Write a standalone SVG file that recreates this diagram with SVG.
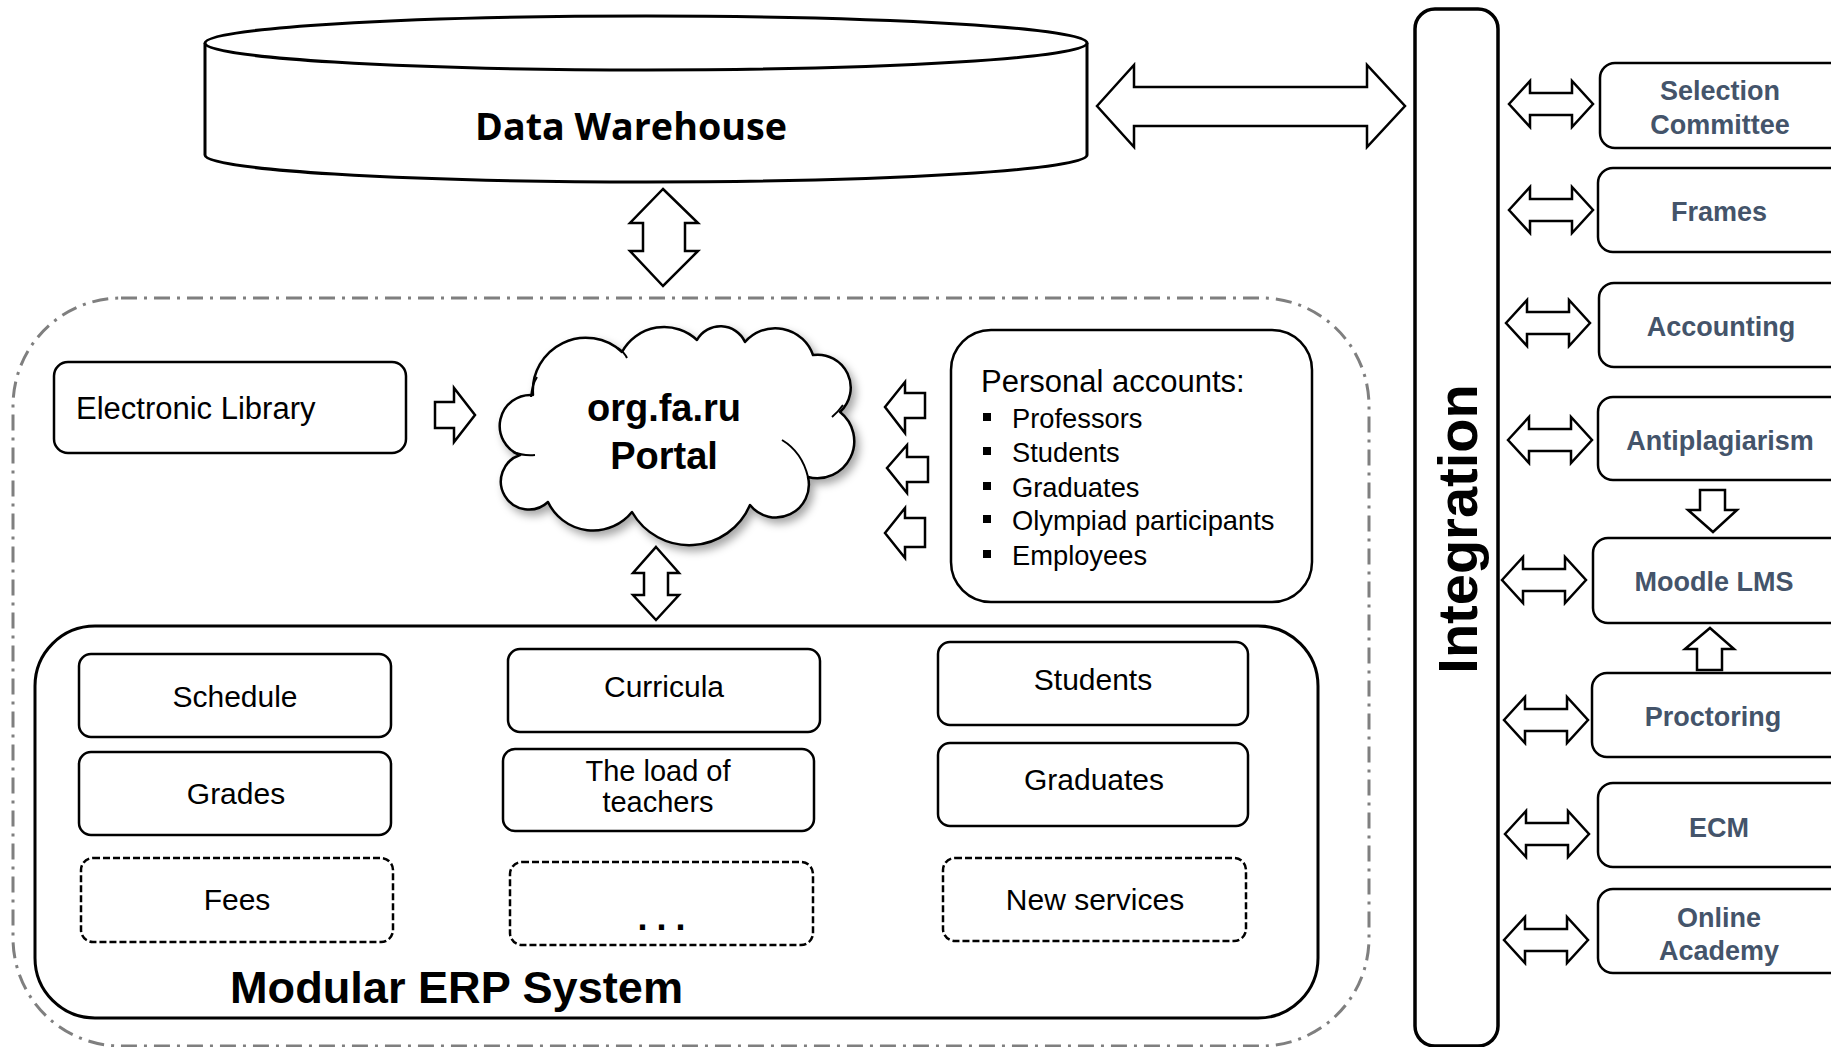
<svg xmlns="http://www.w3.org/2000/svg" xmlns:xlink="http://www.w3.org/1999/xlink" width="1831" height="1047" viewBox="0 0 1831 1047">
<style>
  .ln{fill:#fff;stroke:#000;stroke-width:2.5;stroke-linejoin:round}
  .thick{fill:#fff;stroke:#000;stroke-width:3;stroke-linejoin:round}
  .dash{fill:#fff;stroke:#000;stroke-width:2.5;stroke-dasharray:7 3}
  .arr{fill:#fff;stroke:#000;stroke-width:2.5;stroke-linejoin:miter}
  .t{font-family:"Liberation Sans",Arial,sans-serif;fill:#000}
  .c{text-anchor:middle}
  .b{font-weight:bold}
  .rt{font-family:"Liberation Sans",Arial,sans-serif;font-weight:bold;font-size:27px;fill:#44546A;text-anchor:middle}
  .m{font-size:30px}
</style>
<defs>
  <polygon id="dbl" points="0,0 21,-23 21,-11 63,-11 63,-23 84,0 63,23 63,11 21,11 21,23" class="arr"/>
  <filter id="sh" x="-10%" y="-10%" width="130%" height="130%">
    <feDropShadow dx="4" dy="5" stdDeviation="4" flood-color="#000" flood-opacity="0.35"/>
  </filter>
</defs>

<g id="outer-container">
  <rect x="13" y="298" width="1356" height="748" rx="108" ry="108" fill="none" stroke="#7f7f7f" stroke-width="3" stroke-dasharray="16 7 3 7"/>
</g>

<g id="data-warehouse">
  <path d="M205,43 L205,155 A441,27 0 0 0 1087,155 L1087,43" class="thick"/>
  <ellipse cx="646" cy="43" rx="441" ry="27" class="thick"/>
  <text x="631" y="140" font-family="'Open Sans','Noto Sans',sans-serif" font-weight="bold" font-size="38" text-anchor="middle" textLength="312" lengthAdjust="spacingAndGlyphs">Data Warehouse</text>
</g>

<g id="integration">
  <rect x="1415" y="9" width="83" height="1037" rx="20" ry="20" fill="#fff" stroke="#000" stroke-width="3.5"/>
  <text class="t b c" font-size="56" transform="translate(1477,529) rotate(-90)">Integration</text>
</g>

<g id="selection-committee">
  <rect x="1600" y="63" width="300" height="85" rx="15" class="ln"/>
  <text class="rt" x="1720" y="100">Selection</text>
  <text class="rt" x="1720" y="134">Committee</text>
</g>
<g id="frames">
  <rect x="1598" y="168" width="300" height="84" rx="15" class="ln"/>
  <text class="rt" x="1719" y="221">Frames</text>
</g>
<g id="accounting">
  <rect x="1599" y="283" width="300" height="84" rx="15" class="ln"/>
  <text class="rt" x="1721" y="336">Accounting</text>
</g>
<g id="antiplagiarism">
  <rect x="1598" y="397" width="300" height="83" rx="15" class="ln"/>
  <text class="rt" x="1720" y="450">Antiplagiarism</text>
</g>
<g id="moodle-lms">
  <rect x="1593" y="538" width="300" height="85" rx="15" class="ln"/>
  <text class="rt" x="1714" y="591">Moodle LMS</text>
</g>
<g id="proctoring">
  <rect x="1592" y="673" width="300" height="84" rx="15" class="ln"/>
  <text class="rt" x="1713" y="726">Proctoring</text>
</g>
<g id="ecm">
  <rect x="1598" y="783" width="300" height="84" rx="15" class="ln"/>
  <text class="rt" x="1719" y="837">ECM</text>
</g>
<g id="online-academy">
  <rect x="1598" y="889" width="300" height="84" rx="15" class="ln"/>
  <text class="rt" x="1719" y="927">Online</text>
  <text class="rt" x="1719" y="960">Academy</text>
</g>

<g id="electronic-library">
  <rect x="54" y="362" width="352" height="91" rx="14" class="ln"/>
  <text class="t" x="76" y="419" font-size="31">Electronic Library</text>
</g>

<g id="portal">
  <path filter="url(#sh)" class="ln" stroke-width="2" d="M533,395 A53,53 0 0 1 622,352 A48,48 0 0 1 697,340 A27,27 0 0 1 745,342 A40,40 0 0 1 813,355 A33,33 0 0 1 840,412 A37,37 0 0 1 808,477 A33,33 0 0 1 750,505 A66,66 0 0 1 632,512 A50,50 0 0 1 548,502 A28,28 0 1 1 520,455 A31,31 0 0 1 533,395 Z"/>
  <g fill="none" stroke="#000" stroke-width="2">
    <path d="M531,397 Q532,385 537,377"/>
    <path d="M618,348 Q624,352 627,358"/>
    <path d="M843,405 Q838,412 832,417"/>
    <path d="M782,440 Q802,452 808,477"/>
    <path d="M513,452 Q523,456 535,455"/>
  </g>
  <text class="t b c" x="664" y="421" font-size="38">org.fa.ru</text>
  <text class="t b c" x="664" y="469" font-size="38">Portal</text>
</g>

<g id="personal-accounts">
  <rect x="951" y="330" width="361" height="272" rx="40" class="ln"/>
  <text class="t" x="981" y="392" font-size="31">Personal accounts:</text>
  <g fill="#000">
    <rect x="983" y="413" width="8" height="8"/>
    <rect x="983" y="447" width="8" height="8"/>
    <rect x="983" y="482" width="8" height="8"/>
    <rect x="983" y="515" width="8" height="8"/>
    <rect x="983" y="550" width="8" height="8"/>
  </g>
  <text class="t" x="1012" y="428" font-size="27.3">Professors</text>
  <text class="t" x="1012" y="462" font-size="27.3">Students</text>
  <text class="t" x="1012" y="497" font-size="27.3">Graduates</text>
  <text class="t" x="1012" y="530" font-size="27.3">Olympiad participants</text>
  <text class="t" x="1012" y="565" font-size="27.3">Employees</text>
</g>

<g id="erp-system">
  <rect x="35" y="626" width="1283" height="392" rx="60" ry="60" class="thick"/>
  <text class="t b" x="230" y="1003" font-size="44" textLength="453" lengthAdjust="spacingAndGlyphs">Modular ERP System</text>
</g>
<g id="schedule">
  <rect x="79" y="654" width="312" height="83" rx="12" class="ln"/>
  <text class="t c m" x="235" y="707">Schedule</text>
</g>
<g id="grades">
  <rect x="79" y="752" width="312" height="83" rx="12" class="ln"/>
  <text class="t c m" x="236" y="804">Grades</text>
</g>
<g id="fees">
  <rect x="81" y="858" width="312" height="84" rx="12" class="dash"/>
  <text class="t c m" x="237" y="910">Fees</text>
</g>
<g id="curricula">
  <rect x="508" y="649" width="312" height="83" rx="12" class="ln"/>
  <text class="t c m" x="664" y="697">Curricula</text>
</g>
<g id="teacher-load">
  <rect x="503" y="749" width="311" height="82" rx="12" class="ln"/>
  <text class="t c" x="658" y="781" font-size="29">The load of</text>
  <text class="t c" x="658" y="812" font-size="29">teachers</text>
</g>
<g id="more">
  <rect x="510" y="862" width="303" height="83" rx="12" class="dash"/>
  <text class="t c b" x="666" y="930" font-size="36" letter-spacing="9">...</text>
</g>
<g id="students">
  <rect x="938" y="642" width="310" height="83" rx="12" class="ln"/>
  <text class="t c m" x="1093" y="690">Students</text>
</g>
<g id="graduates">
  <rect x="938" y="743" width="310" height="83" rx="12" class="ln"/>
  <text class="t c m" x="1094" y="790">Graduates</text>
</g>
<g id="new-services">
  <rect x="943" y="858" width="303" height="83" rx="12" class="dash"/>
  <text class="t c m" x="1095" y="910">New services</text>
</g>

<g id="connectors">
  <polygon class="arr" stroke-width="3" points="1097,106 1134,65 1134,87 1367,87 1367,65 1405,106 1367,147 1367,126 1134,126 1134,147"/>
  <polygon class="arr" points="663,189 698,223 685,223 685,251 698,251 663,286 630,251 643,251 643,223 630,223"/>
  <polygon class="arr" points="656,547 679,573 668,573 668,595 679,595 656,620 633,595 644,595 644,573 633,573"/>
  <polygon class="arr" points="435,402 454,402 454,388 475,415 454,442 454,428 435,428"/>
  <polygon class="arr" points="885,407 905,382 905,393 925,393 925,418 905,418 905,433"/>
  <polygon class="arr" points="887,468 907,445 907,457 928,457 928,482 907,482 907,493"/>
  <polygon class="arr" points="885,533 905,508 905,518 925,518 925,547 905,547 905,558"/>
  <use xlink:href="#dbl" x="1509" y="104"/>
  <use xlink:href="#dbl" x="1509" y="210"/>
  <use xlink:href="#dbl" x="1506" y="323"/>
  <use xlink:href="#dbl" x="1508" y="440"/>
  <use xlink:href="#dbl" x="1502" y="580"/>
  <use xlink:href="#dbl" x="1504" y="720"/>
  <use xlink:href="#dbl" x="1505" y="834"/>
  <use xlink:href="#dbl" x="1504" y="940"/>
  <polygon class="arr" points="1700,490 1725,490 1725,510 1737,510 1713,532 1688,510 1700,510"/>
  <polygon class="arr" points="1710,628 1734,649 1722,649 1722,670 1697,670 1697,649 1685,649"/>
</g>
</svg>
